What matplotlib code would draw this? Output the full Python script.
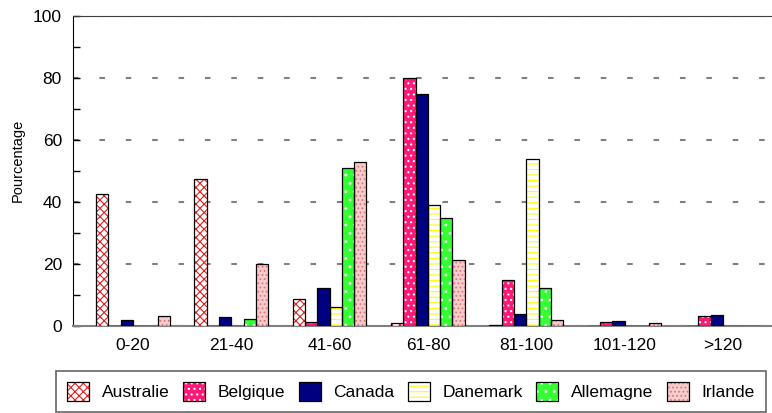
import matplotlib
matplotlib.use("Agg")
import matplotlib.pyplot as plt
from matplotlib.patches import Patch
from matplotlib.ticker import MultipleLocator
import numpy as np

plt.rcParams["font.family"] = ["Liberation Sans", "DejaVu Sans"]
plt.rcParams["hatch.linewidth"] = 0.8
plt.rcParams["lines.scale_dashes"] = False

classes = ["0-20", "21-40", "41-60", "61-80", "81-100", "101-120", ">120"]
countries = ["Australie", "Belgique", "Canada", "Danemark", "Allemagne", "Irlande"]

australie = [42.7, 47.4, 8.6, 1.0, 0.2, 0.0, 0.0]
belgique = [0.0, 0.0, 1.2, 80.0, 15.0, 1.2, 3.1]
canada = [2.0, 2.9, 12.2, 74.7, 3.8, 1.5, 3.6]
danemark = [0.0, 0.0, 6.0, 39.0, 54.0, 0.0, 0.0]
allemagne = [0.0, 2.2, 51.0, 35.0, 12.2, 0.0, 0.0]
irlande = [3.2, 20.0, 53.0, 21.2, 2.0, 1.0, 0.0]
series = [australie, belgique, canada, danemark, allemagne, irlande]

# face colour, hatch pattern, hatch colour
styles = [
    ("white", "xxxx", "#e02020"),
    ("#ff1a7a", "...", "white"),
    ("#000080", "", "#000080"),
    ("white", "---", "#ffff00"),
    ("#33ff33", "..", "white"),
    ("#f7cccc", "....", "#e07878"),
]

fs = 12.5

fig = plt.figure(figsize=(7.72, 4.13), dpi=100)
ax = fig.add_axes([73 / 772, 1 - 326 / 413, 1 - 73 / 772, 310 / 413])

x = np.arange(len(classes))
width = 0.125
for i, (vals, (fc, hatch, hc)) in enumerate(zip(series, styles)):
    pos = x + (i - 2.5) * width
    # filled + hatched body, then a black outline on top
    ax.bar(pos, vals, width, color=fc, hatch=hatch, edgecolor=hc, linewidth=0, zorder=3)
    ax.bar(pos, vals, width, facecolor="none", edgecolor="black", linewidth=0.9, zorder=4)

ax.set_xlim(-0.61, 6.5)
ax.set_ylim(0, 100)
ax.set_xticks(x)
ax.set_xticklabels(classes)
ax.yaxis.set_major_locator(MultipleLocator(20))
ax.yaxis.set_minor_locator(MultipleLocator(10))
ax.tick_params(axis="x", length=0, pad=9, labelsize=fs)
ax.tick_params(axis="y", which="both", direction="in", length=5, width=1, pad=8, labelsize=fs)
ax.yaxis.grid(True, color="#808080", linewidth=1.5, linestyle=(0, (4, 15)), zorder=1)

ax.spines["right"].set_visible(False)
ax.spines["top"].set_color("#404040")
ax.spines["bottom"].set_color("#808080")
ax.spines["bottom"].set_linewidth(1.5)
ax.spines["left"].set_color("black")
ax.set_ylabel("Pourcentage", fontsize=10.5)
ax.yaxis.set_label_coords(-0.069, 0.535)

handles = []
for fc, hatch, hc in styles:
    body = Patch(facecolor=fc, hatch=hatch, edgecolor=hc, linewidth=0)
    edge = Patch(facecolor="none", edgecolor="black", linewidth=0.9)
    handles.append((body, edge))

leg = fig.legend(handles, countries, loc="upper left", bbox_to_anchor=(56 / 772, 1 - 371 / 413),
                 ncol=6, fontsize=fs, frameon=True, fancybox=False, borderaxespad=0,
                 handlelength=1.27, handleheight=1.27, handletextpad=0.72, columnspacing=0.78,
                 borderpad=0.65)
leg.get_frame().set_edgecolor("#404040")
leg.get_frame().set_linewidth(1.2)

fig.savefig("out.png", dpi=100)
